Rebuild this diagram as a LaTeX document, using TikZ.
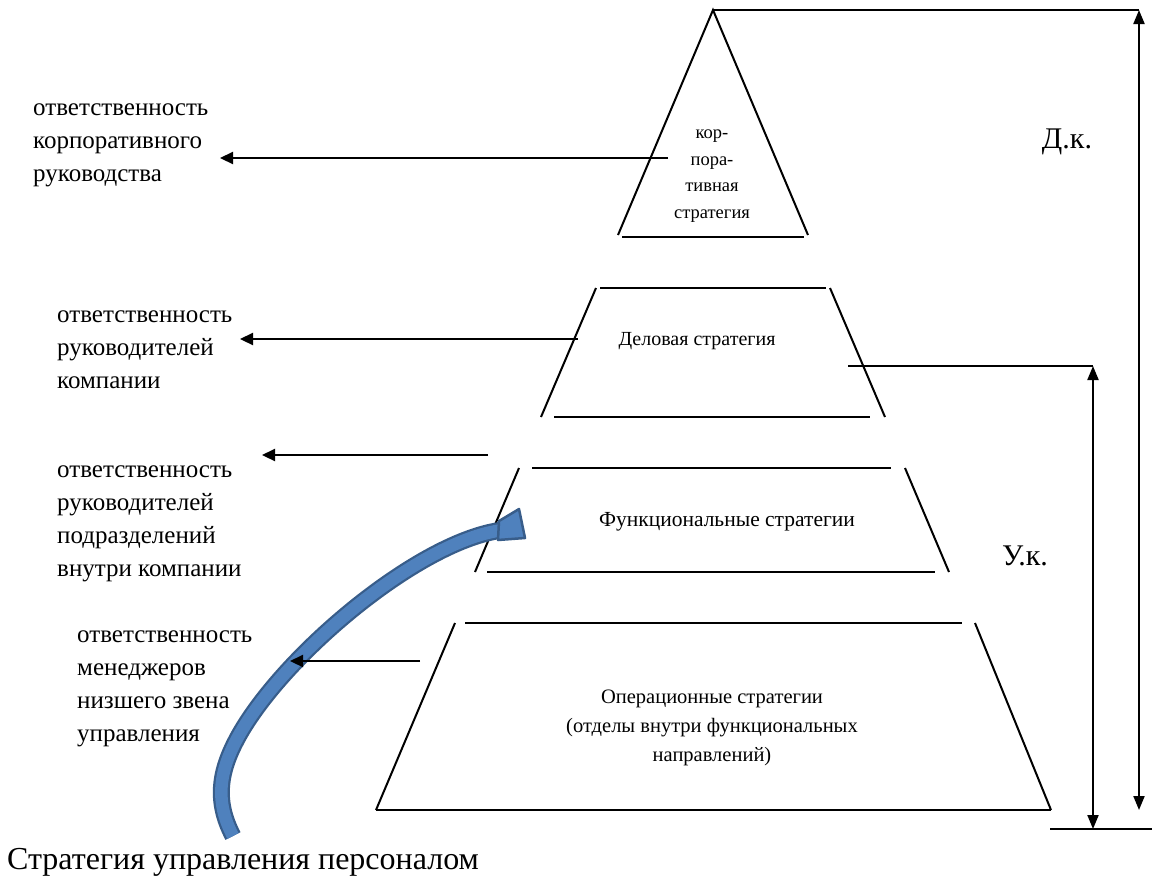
\documentclass[tikz,border=0pt]{standalone}
\usepackage{fontspec}
\setmainfont{Liberation Serif}
\usetikzlibrary{arrows.meta}
\definecolor{arrowfill}{RGB}{79,129,189}
\definecolor{arrowline}{RGB}{56,93,138}
\begin{document}
\begin{tikzpicture}[x=1pt,y=-1pt,
  pyr/.style={line width=2pt, black},
  resp/.style={line width=2.2pt, -{Triangle[length=13pt,width=12pt]}},
  dim/.style={line width=2pt, {Triangle[length=14pt,width=11pt]}-{Triangle[length=14pt,width=11pt]}},
  lbl/.style={anchor=north west, align=left, inner sep=0pt, font=\fontsize{25}{33}\selectfont},
  ptxt/.style={align=center, inner sep=0pt, font=\fontsize{20}{27}\selectfont},
  big/.style={inner sep=0pt, font=\fontsize{30}{32}\selectfont}]
\useasboundingbox (0,0) rectangle (1152,879);

% top triangle
\draw[pyr] (618,235) -- (713,10) -- (808,235);
\draw[pyr] (622,237) -- (804,237);
\node[ptxt, font=\fontsize{18.5}{26.5}\selectfont] (corp) at (712,176) {кор-\\пора-\\тивная\\стратегия};

% business
\draw[pyr] (596,288) -- (541,417);
\draw[pyr] (600,288) -- (826,288);
\draw[pyr] (830,288) -- (885,417);
\draw[pyr] (554,417) -- (870,417);
\node[ptxt] (bus) at (697,341) {Деловая стратегия};

% functional
\draw[pyr] (519,468) -- (475,572);
\draw[pyr] (532,468) -- (891,468);
\draw[pyr] (905,468) -- (949,572);
\draw[pyr] (487,572) -- (935,572);
\node[ptxt, font=\fontsize{21.5}{27}\selectfont] (fun) at (727,522) {Функциональные стратегии};

% operational
\draw[pyr] (455,623) -- (376,810);
\draw[pyr] (465,623) -- (962,623);
\draw[pyr] (975,623) -- (1051,810);
\draw[pyr] (376,810) -- (1051,810);
\node[ptxt, font=\fontsize{20.5}{29}\selectfont] (op) at (712,728) {Операционные стратегии\\(отделы внутри функциональных\\направлений)};

% labels
\node[lbl] (l1) at (33,104) {ответственность\\корпоративного\\руководства};
\node[lbl] (l2) at (57,311) {ответственность\\руководителей\\компании};
\node[lbl] (l3) at (57,466) {ответственность\\руководителей\\подразделений\\внутри компании};
\node[lbl] (l4) at (77,631) {ответственность\\менеджеров\\низшего звена\\управления};

% blue curved arrow
\def\curvepath{(233,836) .. controls (214,800) and (220,770) .. (238,737) .. controls (283,655) and (420,540) .. (503,530)}
\draw[line width=17pt, arrowline] \curvepath;
\draw[line width=12.5pt, arrowfill] \curvepath;
\filldraw[fill=arrowfill, draw=arrowline, line width=2.5pt, line join=round] (499,521) -- (519,509) -- (525,538) -- (498,540) -- cycle;

% responsibility arrows
\coordinate (a1s) at (668,158); \coordinate (a1e) at (220,158);
\coordinate (a2s) at (578,339); \coordinate (a2e) at (240,339);
\coordinate (a3s) at (488,455); \coordinate (a3e) at (262,455);
\coordinate (a4s) at (420,661); \coordinate (a4e) at (290,661);
\draw[resp] (a1s) -- (a1e);
\draw[resp] (a2s) -- (a2e);
\draw[resp] (a3s) -- (a3e);
\draw[resp] (a4s) -- (a4e);

% right dimension lines
\coordinate (apex) at (713,10);
\coordinate (dtop) at (1139,10);
\coordinate (dbot) at (1139,810);
\coordinate (ustart) at (848,366);
\coordinate (utop) at (1093,366);
\coordinate (ubot) at (1093,829);
\coordinate (basel) at (1050,829);
\coordinate (baser) at (1152,829);
\draw[line width=2pt] (apex) -- (dtop);
\draw[line width=2pt] (ustart) -- (utop);
\draw[line width=2pt] (basel) -- (baser);
\draw[dim] (dtop) -- (dbot);
\draw[dim] (utop) -- (ubot);
\node[big] (dk) at (1067,142) {Д.к.};
\node[big] (uk) at (1025,556) {У.к.};

\node[anchor=base west, inner sep=0pt, font=\fontsize{32}{34}\selectfont] (hr) at (7,869) {Стратегия управления персоналом};
\end{tikzpicture}
\end{document}
